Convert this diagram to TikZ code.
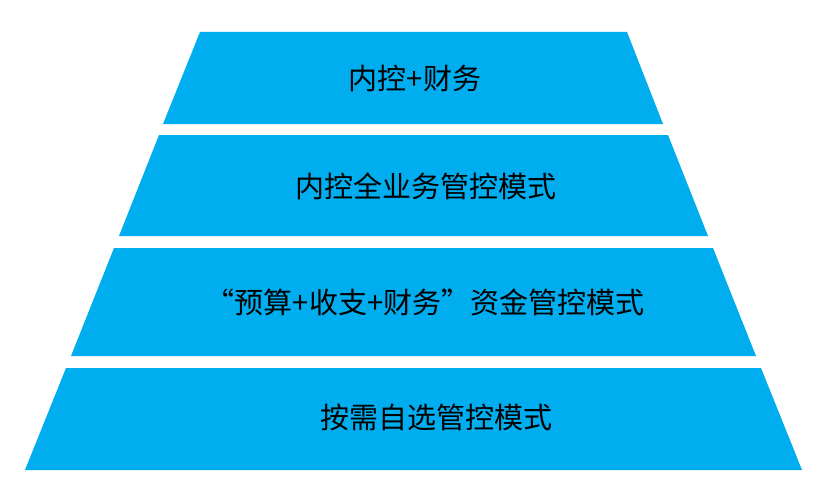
\documentclass[tikz,border=0pt]{standalone}
\usepackage{fontspec}
\newfontfamily\cjk{Noto Sans CJK SC}
\definecolor{tb}{HTML}{00ADEF}
\begin{document}
\begin{tikzpicture}[x=1pt,y=-1pt,
  tier/.style={fill=tb,draw=none},
  lab/.style={font=\cjk\fontsize{29}{34}\selectfont,text=black,inner sep=0pt}]
\useasboundingbox (0,0) rectangle (818,500);
\fill[white] (0,0) rectangle (818,500);
\path[tier] (200,32) -- (627,32) -- (663,124) -- (163,124) -- cycle;
\path[tier] (159,135) -- (668,135) -- (708,236) -- (119,236) -- cycle;
\path[tier] (114,248) -- (713,248) -- (756,356) -- (71,356) -- cycle;
\path[tier] (66,368) -- (761,368) -- (802,470) -- (25,470) -- cycle;
\node[lab] (t1) at (415,78) {内控+财务};
\node[lab] (t2) at (426,186) {内控全业务管控模式};
\node[lab] (t3) at (425,302) {“预算+收支+财务”资金管控模式};
\node[lab] (t4) at (436,417) {按需自选管控模式};
\end{tikzpicture}
\end{document}
